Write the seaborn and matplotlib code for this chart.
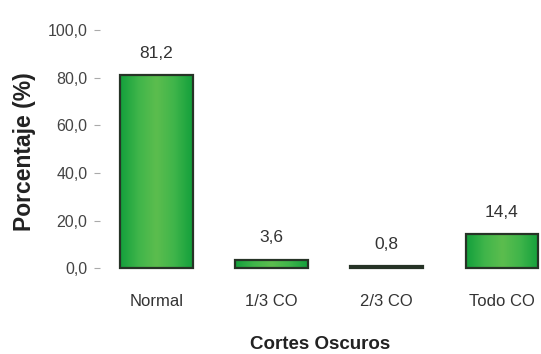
import matplotlib
matplotlib.use("Agg")
import matplotlib.pyplot as plt
import seaborn as sns
import numpy as np
import pandas as pd
from matplotlib.colors import LinearSegmentedColormap

categories = ["Normal", "1/3 CO", "2/3 CO", "Todo CO"]
values = [81.2, 3.6, 0.8, 14.4]
yticks = [0, 20, 40, 60, 80, 100]
ytick_labels = ["0,0", "20,0", "40,0", "60,0", "80,0", "100,0"]
value_labels = ["81,2", "3,6", "0,8", "14,4"]

sns.set_theme(style="white")
plt.rcParams["font.family"] = ["Liberation Sans", "DejaVu Sans"]

df = pd.DataFrame({"cat": categories, "val": values})

fig = plt.figure(figsize=(5.41, 3.54), dpi=100)
ax = fig.add_axes([0.185, 0.229, 0.815, 0.699])

sns.barplot(data=df, x="cat", y="val", ax=ax, color="#2aad45",
            width=0.63, edgecolor="#263326", linewidth=1.6, saturation=1)

cmap = LinearSegmentedColormap.from_list("g", ["#14a03c", "#3fb54a", "#5cbd4e", "#3fb54a", "#14a03c"])
grad = np.linspace(0, 1, 64).reshape(1, -1)
for p in ax.patches:
    bb = p.get_bbox()
    im = ax.imshow(grad, cmap=cmap, aspect="auto",
                   extent=[bb.x0, bb.x1, bb.y0, bb.y1], zorder=p.get_zorder() - 0.1)
    im.set_clip_path(p)
    p.set_facecolor("none")

ax.set_xlim(-0.49, 3.34)
ax.set_ylim(-2, 102)

for i, (v, lab) in enumerate(zip(values, value_labels)):
    ax.text(i, v + 6, lab, ha="center", va="bottom", fontsize=12.5, color="#333333")

ax.set_yticks(yticks)
ax.set_yticklabels(ytick_labels, fontsize=11.5, color="#444444")
ax.tick_params(axis="y", left=True, length=4, width=0.8, color="#aaaaaa", pad=5)
ax.tick_params(axis="x", bottom=False, labelsize=12, labelcolor="#333333", pad=9)
for s in ax.spines.values():
    s.set_visible(False)

ax.set_xlabel("Cortes Oscuros", fontsize=13.5, fontweight="bold", color="#222222")
ax.set_ylabel("Porcentaje (%)", fontsize=16.5, fontweight="bold", color="#222222")
ax.xaxis.set_label_coords(0.50, -0.255)
ax.yaxis.set_label_coords(-0.145, 0.49)

fig.savefig("out.png", dpi=100)
